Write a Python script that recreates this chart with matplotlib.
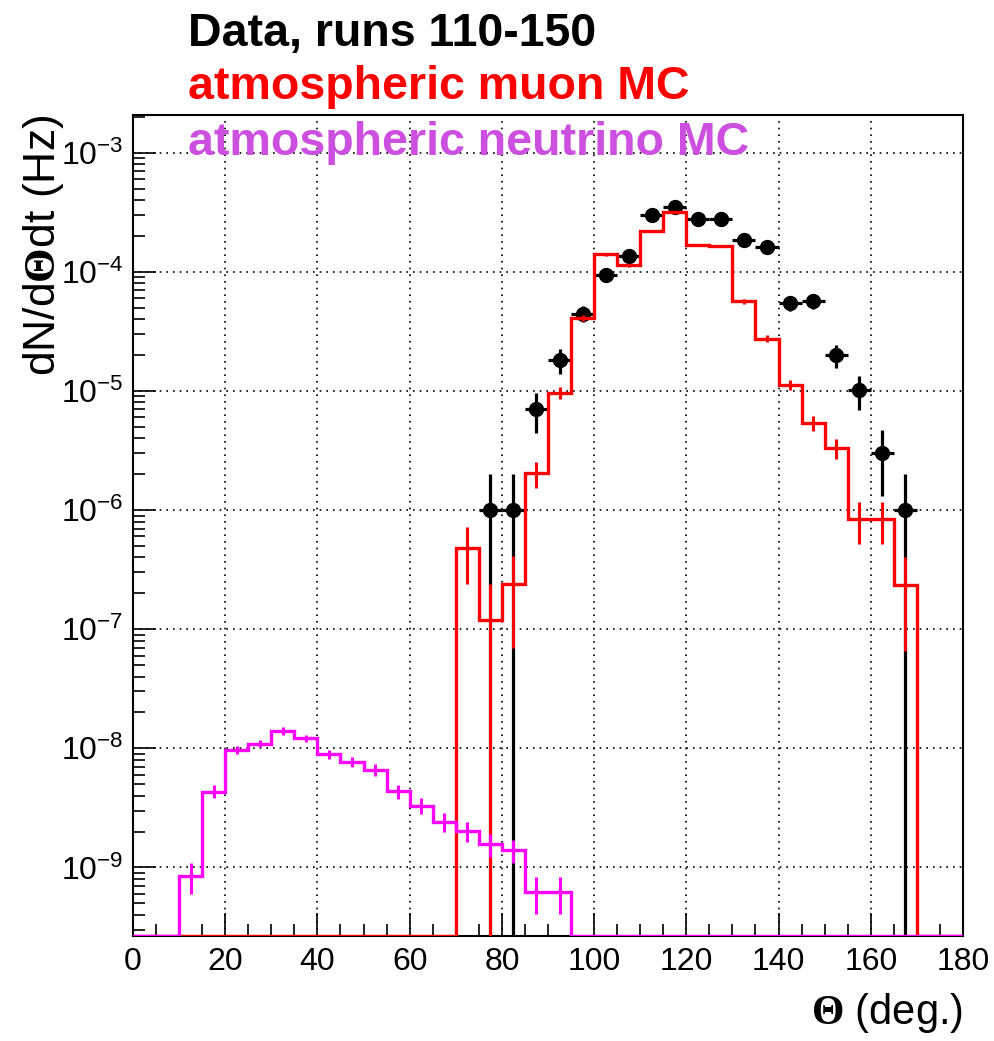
import numpy as np
import matplotlib
matplotlib.use("Agg")
import matplotlib.pyplot as plt
from matplotlib.ticker import LogLocator, MultipleLocator, NullFormatter

plt.rcParams['font.family'] = ['Liberation Sans', 'DejaVu Sans']
plt.rcParams['mathtext.fontset'] = 'custom'
plt.rcParams['mathtext.rm'] = 'Liberation Serif'
plt.rcParams['mathtext.bf'] = 'Liberation Serif:bold'

#%% data
# bin edges of the histograms (5 degree bins)
edges = np.arange(0, 185, 5)

# data points, runs 110-150 (bin centres, rate in Hz, error)
data_x = np.array([77.5, 82.5, 87.5, 92.5, 97.5, 102.5, 107.5, 112.5, 117.5, 122.5,
                   127.5, 132.5, 137.5, 142.5, 147.5, 152.5, 157.5, 162.5, 167.5])
data_y = np.array([1.0e-6, 1.0e-6, 7.0e-6, 1.83e-5, 4.45e-5, 9.4e-5, 1.36e-4, 2.97e-4,
                   3.52e-4, 2.78e-4, 2.78e-4, 1.85e-4, 1.61e-4, 5.47e-5, 5.66e-5,
                   2.0e-5, 1.01e-5, 3.0e-6, 1.0e-6])
data_err = np.array([1.0e-6, 1.0e-6, 2.6e-6, 4.3e-6, 6.7e-6, 9.7e-6, 1.17e-5, 1.72e-5,
                     1.88e-5, 1.67e-5, 1.67e-5, 1.36e-5, 1.27e-5, 7.4e-6, 7.5e-6,
                     4.5e-6, 3.2e-6, 1.7e-6, 1.0e-6])

# atmospheric muon MC, one value per bin (0-180)
muon_y = np.array([0, 0, 0, 0, 0, 0, 0, 0, 0, 0, 0, 0, 0, 0,
                   4.8e-7, 1.2e-7, 2.4e-7, 2.04e-6, 9.66e-6, 4.09e-5, 1.40e-4, 1.13e-4,
                   2.19e-4, 3.19e-4, 1.68e-4, 1.65e-4, 5.66e-5, 2.75e-5, 1.13e-5, 5.4e-6,
                   3.33e-6, 8.4e-7, 8.4e-7, 2.35e-7, 0, 0])
muon_err = np.array([0, 0, 0, 0, 0, 0, 0, 0, 0, 0, 0, 0, 0, 0,
                     2.4e-7, 1.2e-7, 1.7e-7, 4.95e-7, 1.08e-6, 2.2e-6, 4.1e-6, 3.7e-6,
                     5.1e-6, 6.2e-6, 4.5e-6, 4.4e-6, 2.6e-6, 1.8e-6, 1.16e-6, 8.0e-7,
                     6.3e-7, 3.2e-7, 3.2e-7, 1.7e-7, 0, 0])

# atmospheric neutrino MC, one value per bin (0-180)
nu_y = np.array([0, 0, 8.5e-10, 4.34e-9, 9.66e-9, 1.09e-8, 1.40e-8, 1.21e-8, 8.9e-9,
                 7.66e-9, 6.6e-9, 4.36e-9, 3.31e-9, 2.41e-9, 2.01e-9, 1.56e-9, 1.40e-9,
                 6.2e-10, 6.2e-10, 0, 0, 0, 0, 0, 0, 0, 0, 0, 0, 0, 0, 0, 0, 0, 0, 0])
nu_err = np.array([0, 0, 2.5e-10, 5.4e-10, 7.4e-10, 7.4e-10, 1.08e-9, 8.2e-10, 7.7e-10,
                   7.4e-10, 7.6e-10, 5.9e-10, 5.1e-10, 4.4e-10, 3.8e-10, 3.4e-10, 3.1e-10,
                   2.1e-10, 2.1e-10, 0, 0, 0, 0, 0, 0, 0, 0, 0, 0, 0, 0, 0, 0, 0, 0, 0])

labels = ['Data, runs 110-150', 'atmospheric muon MC', 'atmospheric neutrino MC']
label_colors = ['black', '#ff0000', '#cc4fe0']

ymin, ymax = 2.66e-10, 2.07e-3

#%% plot
fig = plt.figure(figsize=(9.94, 10.41), dpi=100)
ax = fig.add_axes([0.1338, 0.1009, 0.8350, 0.7886])

centers = 0.5 * (edges[:-1] + edges[1:])

# data
ax.errorbar(data_x, data_y, xerr=2.5, yerr=data_err, fmt='o', color='black',
            markersize=10, elinewidth=2.3, capsize=0, zorder=3)

# muon MC (empty bins drawn on the frame, as ROOT does)
ax.stairs(np.maximum(muon_y, ymin), edges, baseline=None, color='#ff0000',
          linewidth=2.4, zorder=4)
m = muon_y > 0
ax.errorbar(centers[m], muon_y[m], yerr=muon_err[m], fmt='none', ecolor='#ff0000',
            elinewidth=2.2, capsize=0, zorder=4)

# neutrino MC
ax.stairs(np.maximum(nu_y, ymin), edges, baseline=None, color='#ff00ff',
          linewidth=2.4, zorder=5)
n = nu_y > 0
ax.errorbar(centers[n], nu_y[n], yerr=nu_err[n], fmt='none', ecolor='#ff00ff',
            elinewidth=2.2, capsize=0, zorder=5)

ax.set_yscale('log')
ax.set_xlim(0, 180)
ax.set_ylim(ymin, ymax)

ax.xaxis.set_major_locator(MultipleLocator(20))
ax.xaxis.set_minor_locator(MultipleLocator(5))
ax.yaxis.set_major_locator(LogLocator(base=10, numticks=20))
ax.yaxis.set_minor_locator(LogLocator(base=10, subs=np.arange(2, 10), numticks=20))
ax.yaxis.set_minor_formatter(NullFormatter())

ax.tick_params(which='both', direction='in', top=False, right=False, labelsize=23)
ax.tick_params(which='major', length=16.5, width=1.2)
ax.tick_params(which='minor', length=8.5, width=1.2)
ax.tick_params(axis='x', pad=8)
ax.tick_params(axis='y', pad=7)

ax.grid(True, which='major', color='black', linestyle=(0, (1, 3)), linewidth=1.2)
for s in ax.spines.values():
    s.set_linewidth(1.5)

ax.set_xlabel(r'$\mathbf{\Theta}$ (deg.)', fontsize=30, loc='right', labelpad=10)
ax.set_ylabel(r'dN/d$\mathbf{\Theta}$dt (Hz)', fontsize=32, loc='top', labelpad=-4)

ys = [0.956, 0.905, 0.851]
for t, c, yy in zip(labels, label_colors, ys):
    fig.text(0.189, yy, t, color=c, fontsize=33.5, fontweight='bold', va='baseline',
             zorder=10)

fig.savefig('out.png', dpi=100)
